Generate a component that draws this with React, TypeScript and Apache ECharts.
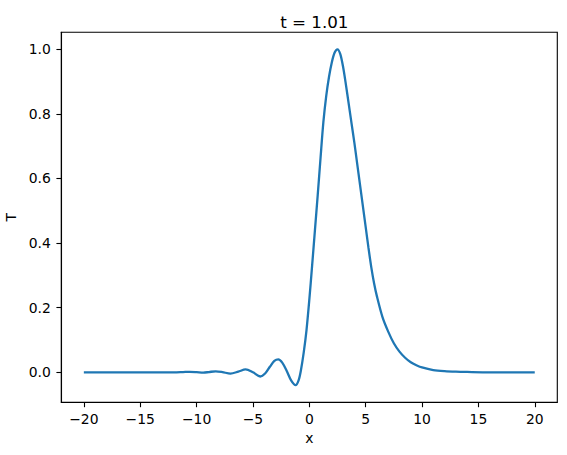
import React, { useEffect, useRef } from "react";
import * as echarts from "echarts";

const titleText = "t = 1.01";
const xName = "x";
const yName = "T";
const xTicks = [-20, -15, -10, -5, 0, 5, 10, 15, 20];
const yTicks = [0, 0.2, 0.4, 0.6, 0.8, 1.0];

const xs = [
  -20, -16, -12, -11.2, -10.6, -10, -9.4, -8.9, -8.3, -7.7, -7.0, -6.3, -5.65, -5.0,
  -4.35, -3.9, -3.5, -3.1, -2.75, -2.4, -2.0, -1.6, -1.21, -0.95, -0.75, -0.5, -0.25,
  0, 0.25, 0.5, 0.75, 1.0, 1.25, 1.5, 1.75, 2.0, 2.25, 2.5, 2.75, 3.0, 3.25, 3.5, 3.75,
  4.0, 4.25, 4.5, 4.75, 5.0, 5.25, 5.5, 5.75, 6.0, 6.5, 7.0, 7.5, 8.0, 8.5, 9.0, 9.5,
  10, 11, 12, 13, 14, 16, 20,
];
const ys = [
  0, 0, 0, 0.0008, 0.0015, 0.0005, -0.001, 0.0008, 0.003, 0.0005, -0.004, 0.002, 0.009, 0.0,
  -0.013, -0.003, 0.017, 0.035, 0.04, 0.03, 0.004, -0.026, -0.04, -0.025, 0.005, 0.06, 0.13,
  0.224, 0.33, 0.44, 0.55, 0.665, 0.775, 0.855, 0.915, 0.96, 0.99, 1.0, 0.985, 0.945, 0.89, 0.83, 0.77,
  0.71, 0.645, 0.58, 0.515, 0.45, 0.385, 0.325, 0.275, 0.235, 0.17, 0.126, 0.09, 0.064, 0.045, 0.031, 0.022,
  0.015, 0.007, 0.0035, 0.0018, 0.001, 0, 0,
];

const FONT = "DejaVu Sans";
const fmt = (v: number, d: number) => v.toFixed(d).replace("-", "\u2212");

export default function App() {
  const ref = useRef<HTMLDivElement>(null);
  useEffect(() => {
    document.body.style.margin = "0";
    const chart = echarts.init(ref.current!, null, { renderer: "svg" });
    const data = xs.map((x, i) => [x, ys[i]]);
    chart.setOption({
      animation: false,
      backgroundColor: "#fff",
      textStyle: { fontFamily: FONT },
      title: {
        text: titleText,
        left: 309.3,
        top: 8,
        textAlign: "center",
        textStyle: { fontFamily: FONT, fontSize: 16.7, fontWeight: "normal", color: "#000" },
      },
      grid: {
        left: 61.3,
        top: 32.3,
        right: 9.7,
        bottom: 52.7,
        containLabel: false,
        outerBoundsMode: "none",
        show: true,
        borderColor: "#000",
        borderWidth: 1.1,
        backgroundColor: "transparent",
      },
      xAxis: {
        type: "value",
        min: -22,
        max: 22,
        name: xName,
        nameLocation: "middle",
        nameGap: 27,
        nameTextStyle: { fontFamily: FONT, fontSize: 13.9, color: "#000" },
        splitLine: { show: false },
        axisLine: { show: true, onZero: false, lineStyle: { color: "#000", width: 1.1 } },
        axisTick: { show: true, length: 4.9, lineStyle: { color: "#000", width: 1.1 }, customValues: xTicks },
        axisLabel: {
          margin: 9.5,
          fontFamily: FONT,
          fontSize: 13.9,
          color: "#000",
          customValues: xTicks,
          formatter: (v: number) => fmt(v, 0),
        },
      },
      yAxis: {
        type: "value",
        min: -0.0929,
        max: 1.0526,
        name: yName,
        nameLocation: "middle",
        nameGap: 40,
        nameTextStyle: { fontFamily: FONT, fontSize: 13.9, color: "#000" },
        splitLine: { show: false },
        axisLine: { show: true, onZero: false, lineStyle: { color: "#000", width: 1.1 } },
        axisTick: { show: true, length: 4.9, lineStyle: { color: "#000", width: 1.1 }, customValues: yTicks },
        axisLabel: {
          margin: 10.5,
          fontFamily: FONT,
          fontSize: 13.9,
          color: "#000",
          customValues: yTicks,
          formatter: (v: number) => fmt(v, 1),
        },
      },
      series: [
        {
          type: "line",
          data,
          smooth: 0.3,
          showSymbol: false,
          lineStyle: { color: "#1f77b4", width: 2.3 },
          itemStyle: { color: "#1f77b4" },
        },
      ],
    });
    return () => chart.dispose();
  }, []);
  return <div ref={ref} style={{ width: 567, height: 455 }} />;
}
